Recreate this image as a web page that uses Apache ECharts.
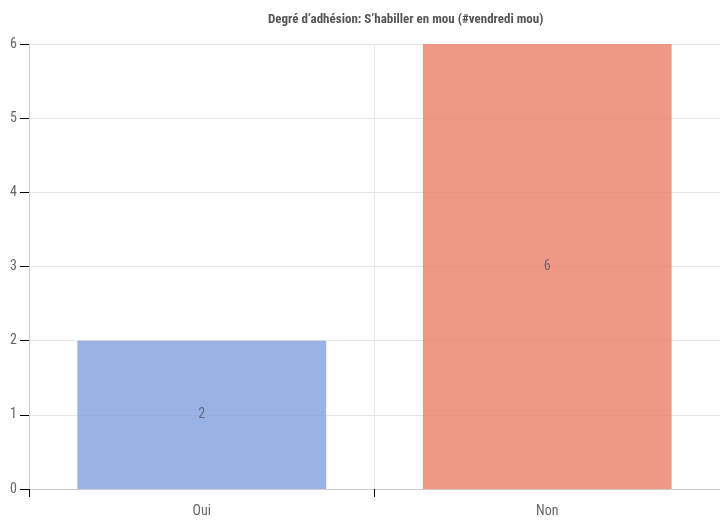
<!DOCTYPE html>
<html><head><meta charset="utf-8">
<script src="https://cdn.jsdelivr.net/npm/echarts@6/dist/echarts.min.js"></script>
<style>html,body{margin:0;padding:0;background:#fff}#c{width:720px;height:521px}</style>
</head><body><div id="c"></div>
<script>
const titleText = "Degré d’adhésion: S’habiller en mou (#vendredi mou)";
const categories = ["Oui", "Non"];
const values = [2, 6];
const barColors = ["rgba(128,160,224,0.8)", "rgba(232,128,104,0.8)"];
const FONT = "'Liberation Sans Narrow', 'Roboto Condensed', 'DejaVu Sans Condensed', sans-serif";

const chart = echarts.init(document.getElementById('c'), null, {renderer: 'canvas'});
chart.setOption({
  animation: false,
  title: {text: titleText, left: 263, top: 8,
    textStyle: {fontFamily: FONT, fontSize: 13, fontWeight: 'bold', color: '#555'}},
  grid: {left: 29, right: 0, top: 44, bottom: 32, containLabel: false},
  xAxis: {type: 'category', data: categories,
    axisLine: {lineStyle: {color: '#ccc'}},
    axisTick: {show: true, length: 8, lineStyle: {color: '#000'}},
    splitLine: {show: true, lineStyle: {color: '#e6e6e6'}},
    axisLabel: {fontFamily: FONT, fontSize: 14, color: '#666', margin: 15}},
  yAxis: {type: 'value', min: 0, max: 6, interval: 1,
    axisLine: {show: true, lineStyle: {color: '#ccc'}},
    axisTick: {show: true, length: 9, lineStyle: {color: '#000'}},
    splitLine: {show: true, lineStyle: {color: '#e6e6e6'}},
    axisLabel: {fontFamily: FONT, fontSize: 14, color: '#666', margin: 12}},
  series: [{type: 'bar', barCategoryGap: '28%',
    data: values.map((v, i) => ({value: v, itemStyle: {color: barColors[i]}})),
    label: {show: true, position: 'inside', fontFamily: FONT, fontSize: 14, color: 'rgba(80,80,100,0.75)'},
    z: 3}]
});
</script></body></html>
